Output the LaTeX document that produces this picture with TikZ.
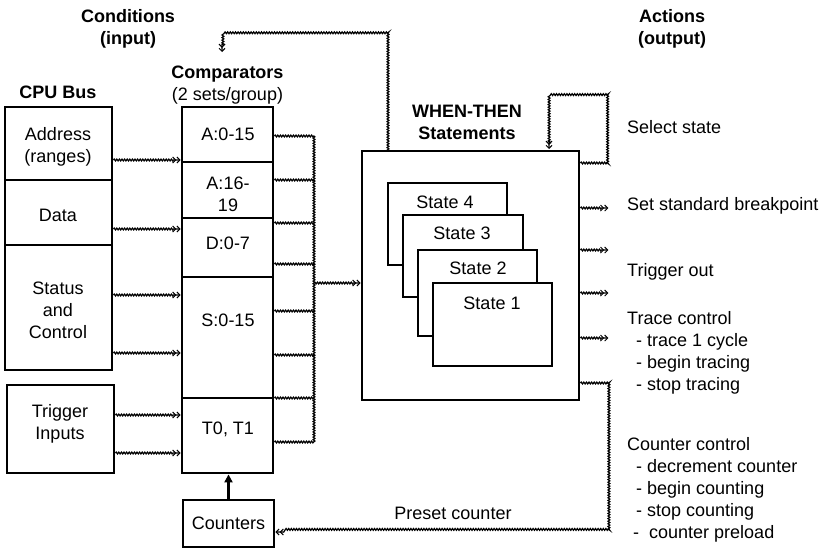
\documentclass[tikz,border=0pt]{standalone}
\usepackage{fontspec}
\setmainfont{Liberation Sans}
\usetikzlibrary{arrows.meta,decorations.pathmorphing,calc}
\begin{document}
\begin{tikzpicture}[x=1pt,y=-1pt,
  box/.style={draw,line width=2.8pt,inner sep=0pt},
  statebox/.style={draw,line width=2.3pt,fill=white,inner sep=0pt},
  txt/.style={font=\fontsize{18}{22}\selectfont,inner sep=0pt,align=center},
  btxt/.style={font=\fontsize{18}{22}\selectfont\bfseries,inner sep=0pt,align=center},
  ltxt/.style={font=\fontsize{18}{22}\selectfont,inner sep=0pt,align=left,anchor=west},
  wavy/.style={line width=1.2pt,decorate,decoration={snake,segment length=2.6pt,amplitude=0.9pt,post length=7pt}},
  sig/.style={wavy,-{Straight Barb[length=3pt,width=6pt,line width=1pt]Straight Barb[length=3pt,width=6pt,line width=1pt]}},
]
\useasboundingbox (0,0) rectangle (826,549);

% CPU bus
\node[box,minimum width=107,minimum height=73] (addr) at (58.5,143.5) {};
\node[box,minimum width=107,minimum height=65] (data) at (58.5,212.5) {};
\node[box,minimum width=107,minimum height=125] (stat) at (58.5,307.5) {};
\node[box,minimum width=107,minimum height=88] (trig) at (60.5,429) {};
\node[txt] (taddr) at (58,146.5) {Address\\(ranges)};
\node[txt] (tdata) at (58,215) {Data};
\node[txt] (tstat) at (58,310) {Status\\and\\Control};
\node[txt] (ttrig) at (60,423.5) {Trigger\\Inputs};

% Comparators
\node[box,minimum width=91,minimum height=55] (cA0) at (227.5,134.5) {};
\node[box,minimum width=91,minimum height=56] (cA16) at (227.5,190) {};
\node[box,minimum width=91,minimum height=59] (cD) at (227.5,247.5) {};
\node[box,minimum width=91,minimum height=121] (cS) at (227.5,337.5) {};
\node[box,minimum width=91,minimum height=75] (cT) at (227.5,435.5) {};
\node[txt] (tA0) at (228,134) {A:0-15};
\node[txt] (tA16) at (228,194) {A:16-\\19};
\node[txt] (tD) at (228,243) {D:0-7};
\node[txt] (tS) at (228,320) {S:0-15};
\node[txt] (tT) at (228,429) {T0, T1};

\node[box,minimum width=91,minimum height=47] (counters) at (228.5,523.5) {};
\node[txt] (tcounters) at (228.5,523) {Counters};

% WHEN-THEN
\node[box,minimum width=217,minimum height=249] (when) at (470.5,275.5) {};
\node[statebox,minimum width=119,minimum height=82] (s4) at (447.5,224) {};
\node[txt] (ts4) at (445,202) {State 4};
\node[statebox,minimum width=120,minimum height=82] (s3) at (463,256) {};
\node[txt] (ts3) at (462,233) {State 3};
\node[statebox,minimum width=119,minimum height=86] (s2) at (477.5,293) {};
\node[txt] (ts2) at (478,268) {State 2};
\node[statebox,minimum width=119,minimum height=83] (s1) at (492.5,324.5) {};
\node[txt] (ts1) at (492,303) {State 1};

% headings
\node[btxt] (cond) at (128,29) {Conditions\\(input)};
\node[btxt] (act) at (672,29) {Actions\\(output)};
\node[btxt] (cpu) at (58,92) {CPU Bus};
\node[txt] (comp) at (227.5,85.5) {\textbf{Comparators}\\(2 sets/group)};
\node[btxt] (whent) at (467,122.5) {WHEN-THEN\\Statements};

% actions
\node[ltxt] (a1) at (627,127) {Select state};
\node[ltxt] (a2) at (627,206) {Set standard breakpoint};
\node[ltxt] (a3) at (627,272) {Trigger out};
\node[ltxt] (a4) at (627,353) {Trace control\\\hspace{9pt}- trace 1 cycle\\\hspace{9pt}- begin tracing\\\hspace{9pt}- stop tracing};
\node[ltxt] (a5) at (627,490) {Counter control\\\hspace{9pt}- decrement counter\\\hspace{9pt}- begin counting\\\hspace{9pt}- stop counting\\\hspace{6pt}-\ \ counter preload};
\node[txt] (preset) at (453,513) {Preset counter};

% inputs to comparators
\foreach \yy/\src/\dst in {160/addr/cA0, 229/data/cD, 295/stat/cS, 353/stat/cS, 415/trig/cT, 453/trig/cT}
  \draw[sig] (\src.east |- 0,\yy) -- (\dst.west |- 0,\yy);

% comparator outputs to bus
\coordinate (bustop) at (314,136);
\coordinate (busbot) at (314,442);
\coordinate (busmid) at (314,283);
\foreach \yy/\src in {136/cA0, 180/cA16, 223/cD, 264/cD, 311/cS, 355/cS, 398/cT, 442/cT}
  \draw[wavy,decoration={post length=0pt}] (\src.east |- 0,\yy) -- (bustop |- 0,\yy);
\draw[wavy,decoration={post length=0pt}] (bustop) -- (busbot);
\draw[sig] (busmid) -- (when.west |- busmid);

% feedback to conditions
\coordinate (wt) at (388,151);
\coordinate (condtop) at (222,33);
\coordinate (condtip) at (222,52);
\draw[sig] (wt) |- (condtop) -- (condtip);

% select state loop
\coordinate (sl1) at (608,163);
\coordinate (sl2) at (608,93);
\coordinate (sl3) at (549,93);
\coordinate (sltip) at (549,149);
\draw[sig] (when.east |- sl1) -- (sl1) -- (sl2) -- (sl3) -- (sltip);

% short action outputs
\foreach \yy in {208,250,293,338}
  \draw[sig,decoration={post length=6pt}] (when.east |- 0,\yy) -- ++(28,0);

% preset counter
\coordinate (pc1) at (609,383);
\coordinate (pc2) at (609,532);
\draw[sig] (when.east |- pc1) -- (pc1) -- (pc2) -- (counters.east |- pc2);

% counters to comparators
\draw[line width=2.8pt,-{Triangle[length=8pt,width=8pt]}] (counters.north) -- (counters.north |- cT.south);
\end{tikzpicture}
\end{document}
